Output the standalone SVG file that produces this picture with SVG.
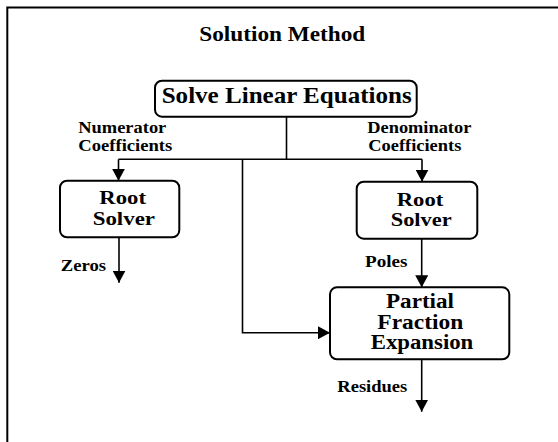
<svg xmlns="http://www.w3.org/2000/svg" width="558" height="442" viewBox="0 0 558 442">
<style>
text{font-family:"Liberation Serif","Times New Roman",serif;font-weight:bold;fill:#000}
.box{fill:#fff;stroke:#000;stroke-width:2}
.ln{fill:none;stroke:#000;stroke-width:1.6}
.lbl{font-size:16px}
.rs{font-size:19px}
.pf{font-size:20px}
</style>
<defs>
<marker id="ah" viewBox="0 0 12 13" markerUnits="userSpaceOnUse" markerWidth="12" markerHeight="13" refX="12" refY="6.5" orient="auto">
<path d="M0,0 L12,6.5 L0,13 z" fill="#000"/>
</marker>
</defs>
<rect width="558" height="442" fill="#fff"/>
<path d="M7.3,442 V7.5 H558" fill="none" stroke="#000" stroke-width="2"/>
<text x="199.3" y="40.7" font-size="20.5" textLength="166" lengthAdjust="spacingAndGlyphs">Solution Method</text>

<g id="connectors">
<path class="ln" d="M286.5,116.7 V159.3"/>
<path class="ln" d="M118.5,159.3 H422"/>
<path class="ln" d="M118.5,159.3 V180.7" marker-end="url(#ah)"/>
<path class="ln" d="M422,159.3 V181.7" marker-end="url(#ah)"/>
<path class="ln" d="M242.5,159.3 V332.7 H330" marker-end="url(#ah)"/>
<path class="ln" d="M119,237.3 V282.7" marker-end="url(#ah)"/>
<path class="ln" d="M421.7,238.7 V287.3" marker-end="url(#ah)"/>
<path class="ln" d="M421.7,359.3 V411.7" marker-end="url(#ah)"/>
<text class="lbl" x="78.3" y="132.7" textLength="88" lengthAdjust="spacingAndGlyphs">Numerator</text>
<text class="lbl" x="78.3" y="150.7" textLength="94" lengthAdjust="spacingAndGlyphs">Coefficients</text>
<text class="lbl" x="367.3" y="132.7" textLength="104" lengthAdjust="spacingAndGlyphs">Denominator</text>
<text class="lbl" x="368.3" y="150.7" textLength="93" lengthAdjust="spacingAndGlyphs">Coefficients</text>
<text class="lbl" x="60.7" y="270.7" textLength="45.3" lengthAdjust="spacingAndGlyphs">Zeros</text>
<text class="lbl" x="365" y="266.7" textLength="42.3" lengthAdjust="spacingAndGlyphs">Poles</text>
<text class="lbl" x="337.3" y="391.7" textLength="70" lengthAdjust="spacingAndGlyphs">Residues</text>
</g>

<g id="solve">
<rect class="box" x="155" y="80.7" width="261.7" height="36" rx="7"/>
<text x="161.7" y="103.3" font-size="22.5" textLength="250" lengthAdjust="spacingAndGlyphs">Solve Linear Equations</text>
</g>

<g id="root-left">
<rect class="box" x="60" y="180.7" width="119.3" height="56.6" rx="7"/>
<text class="rs" x="99.3" y="204.3" textLength="46.7" lengthAdjust="spacingAndGlyphs">Root</text>
<text class="rs" x="92.7" y="225" textLength="62.3" lengthAdjust="spacingAndGlyphs">Solver</text>
</g>

<g id="root-right">
<rect class="box" x="356.7" y="181.7" width="120.6" height="57" rx="7"/>
<text class="rs" x="396.7" y="205.7" textLength="46.6" lengthAdjust="spacingAndGlyphs">Root</text>
<text class="rs" x="390.7" y="226" textLength="61" lengthAdjust="spacingAndGlyphs">Solver</text>
</g>

<g id="pfe">
<rect class="box" x="330" y="287.3" width="179.3" height="72" rx="7"/>
<text class="pf" x="386" y="308.3" textLength="68" lengthAdjust="spacingAndGlyphs">Partial</text>
<text class="pf" x="377.3" y="329.3" textLength="86" lengthAdjust="spacingAndGlyphs">Fraction</text>
<text class="pf" x="370.7" y="349.3" textLength="102.6" lengthAdjust="spacingAndGlyphs">Expansion</text>
</g>
</svg>
